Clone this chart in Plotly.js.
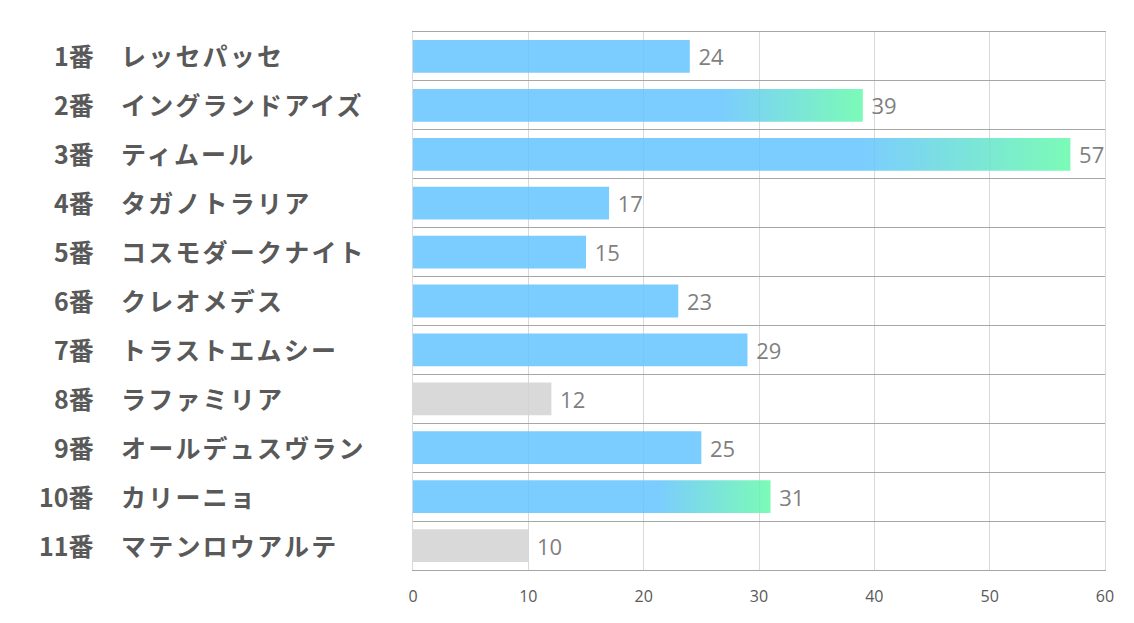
<!DOCTYPE html>
<html>
<head>
<meta charset="utf-8">
<script src="https://cdn.plot.ly/plotly-3.0.1.min.js"></script>
<style>
  html, body { margin: 0; padding: 0; background: #ffffff; }
  #chart { width: 1134px; height: 623px; }
</style>
</head>
<body>
<div id="chart"></div>
<script>
// ---- data ----
const numbers = ["1番", "2番", "3番", "4番", "5番", "6番", "7番", "8番", "9番", "10番", "11番"];
const names = ["レッセパッセ", "イングランドアイズ", "ティムール", "タガノトラリア", "コスモダークナイト",
               "クレオメデス", "トラストエムシー", "ラファミリア", "オールデュスヴラン", "カリーニョ", "マテンロウアルテ"];
const values = [24, 39, 57, 17, 15, 23, 29, 12, 25, 31, 10];
// bar style kind: "blue" plain, "grad" highlighted (blue→green), "gray" muted
const kinds = ["blue", "grad", "grad", "blue", "blue", "blue", "blue", "gray", "blue", "grad", "gray"];
const xTicks = [0, 10, 20, 30, 40, 50, 60];

// ---- styles ----
const BLUE = "rgba(100,195,255,0.85)";
const GRAY = "rgba(210,210,210,0.85)";
const colorOf = { blue: BLUE, grad: BLUE, gray: GRAY };
const LABEL_FONT = "'Noto Sans CJK JP', 'Noto Sans', sans-serif";
const NUM_FONT = "'Open Sans', 'Noto Sans', sans-serif";

const idx = values.map((_, i) => i);

const trace = {
  type: "bar",
  orientation: "h",
  x: values,
  y: idx,
  marker: { color: kinds.map(k => colorOf[k]), line: { width: 0 } },
  texttemplate: " %{x}",
  textposition: "outside",
  textfont: { family: NUM_FONT, size: 22, color: "#7f7f7f" },
  cliponaxis: false,
  hoverinfo: "none"
};

const annotations = [];
idx.forEach(i => {
  annotations.push({
    xref: "paper", yref: "y", x: 0, y: i, xanchor: "right", yanchor: "middle",
    xshift: -317, yshift: 1, text: "<b>" + numbers[i] + "</b>", showarrow: false,
    font: { family: LABEL_FONT, size: 25, color: "#595959" }
  });
  annotations.push({
    xref: "paper", yref: "y", x: 0, y: i, xanchor: "left", yanchor: "middle",
    xshift: -294, yshift: 1, text: "<b>" + names[i] + "</b>", showarrow: false,
    font: { family: LABEL_FONT, size: 25, color: "#595959" }
  });
});

const layout = {
  width: 1134, height: 623,
  margin: { l: 413, r: 29, t: 32, b: 53 },
  paper_bgcolor: "#ffffff", plot_bgcolor: "#ffffff",
  showlegend: false,
  bargap: 0.33,
  xaxis: {
    range: [0, 60], tickvals: xTicks, ticktext: xTicks.map(String),
    showgrid: true, gridcolor: "#d9d9d9", gridwidth: 1,
    zeroline: false, showline: true, mirror: true, linecolor: "#a6a6a6", linewidth: 1,
    ticks: "", ticklabelstandoff: 12,
    tickfont: { family: NUM_FONT, size: 16, color: "#595959" },
    fixedrange: true
  },
  yaxis: {
    range: [10.5, -0.5], tickmode: "linear", tick0: 0.5, dtick: 1,
    showticklabels: false, ticks: "",
    showgrid: true, gridcolor: "#a6a6a6", gridwidth: 1,
    zeroline: false, showline: true, mirror: true, linecolor: "#d9d9d9", linewidth: 1,
    fixedrange: true
  },
  annotations: annotations
};

Plotly.newPlot("chart", [trace], layout, { displayModeBar: false, staticPlot: true }).then(gd => {
  const svg = gd.querySelector("svg.main-svg");
  const NS = "http://www.w3.org/2000/svg";
  let defs = svg.querySelector("defs");
  if (!defs) { defs = document.createElementNS(NS, "defs"); svg.insertBefore(defs, svg.firstChild); }
  const lg = document.createElementNS(NS, "linearGradient");
  lg.setAttribute("id", "barGrad");
  lg.setAttribute("x1", "0"); lg.setAttribute("y1", "0");
  lg.setAttribute("x2", "1"); lg.setAttribute("y2", "0");
  [["0", "rgb(100,195,255)"], ["0.68", "rgb(100,195,255)"], ["1", "rgb(100,250,170)"]].forEach(([o, c]) => {
    const s = document.createElementNS(NS, "stop");
    s.setAttribute("offset", o); s.setAttribute("stop-color", c);
    lg.appendChild(s);
  });
  defs.appendChild(lg);
  const paths = gd.querySelectorAll(".barlayer .trace .point path");
  paths.forEach((p, i) => {
    if (kinds[i] === "grad") p.style.fill = "url(#barGrad)";
  });
  // widen the kana spacing of the horse names, keeping their left edge fixed
  gd.querySelectorAll(".annotation-text").forEach(t => {
    if (/番/.test(t.textContent)) return;
    const b0 = t.getBBox();
    t.style.letterSpacing = "2.2px";
    const b1 = t.getBBox();
    const dx = b0.x - b1.x;
    const prev = t.getAttribute("transform") || "";
    t.setAttribute("transform", prev + " translate(" + dx + ",0)");
  });
});
</script>
</body>
</html>
